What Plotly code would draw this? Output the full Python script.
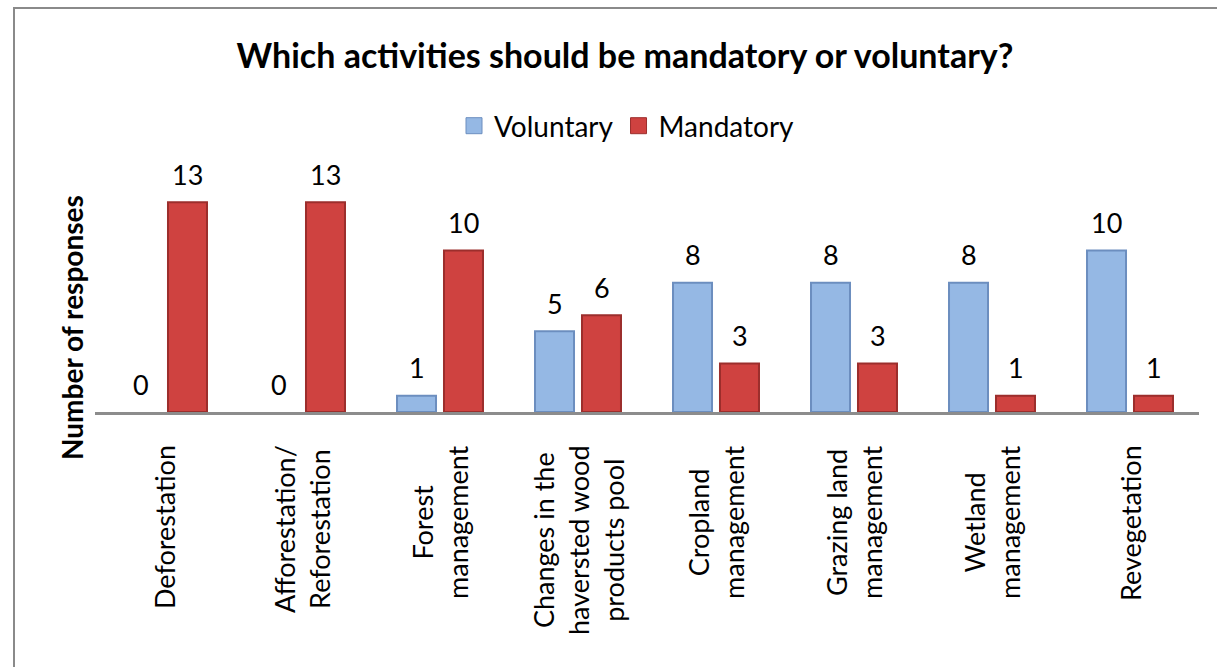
import plotly.graph_objects as go

# Survey results: number of responses per activity
categories = [
    "Deforestation",
    "Afforestation/ Reforestation",
    "Forest management",
    "Changes in the haversted wood products pool",
    "Cropland management",
    "Grazing land management",
    "Wetland management",
    "Revegetation",
]
tick_labels = [
    "Deforestation",
    "Afforestation/<br>Reforestation",
    "Forest<br>management",
    "Changes in the<br>haversted wood<br>products pool",
    "Cropland<br>management",
    "Grazing land<br>management",
    "Wetland<br>management",
    "Revegetation",
]
voluntary = [0, 0, 1, 5, 8, 8, 8, 10]
mandatory = [13, 13, 10, 6, 3, 3, 1, 1]

FONT = "Lato"
BLUE, BLUE_EDGE = "#95B8E4", "#6C8EBF"
RED, RED_EDGE = "#CF4240", "#9C2E2C"

W, H = 1217, 667
L, R, T, B = 95, 18, 186, 255
PW, PH = W - L - R, H - T - B


def px_x(px):
    return (px - L) / PW


def px_y(py):
    return (H - B - py) / PH


def edge_widths(values):
    # no outline on empty bars so they stay invisible
    return [0 if v == 0 else 2 for v in values]


fig = go.Figure()
fig.add_trace(go.Bar(x=categories, y=voluntary, name="Voluntary", showlegend=False,
                     marker=dict(color=BLUE, line=dict(color=BLUE_EDGE, width=edge_widths(voluntary)))))
fig.add_trace(go.Bar(x=categories, y=mandatory, name="Mandatory", showlegend=False,
                     marker=dict(color=RED, line=dict(color=RED_EDGE, width=edge_widths(mandatory)))))

# legend entries with larger square swatches
for name, col, edge in [("Voluntary", BLUE, BLUE_EDGE), ("Mandatory", RED, RED_EDGE)]:
    fig.add_trace(go.Scatter(x=[None], y=[None], mode="markers", name=name,
                             marker=dict(symbol="square", size=16, color=col,
                                         line=dict(color=edge, width=1))))

annotations = []
# value labels above each bar
for cat, v, m in zip(categories, voluntary, mandatory):
    for val, shift in [(v, -23.5), (m, 23.5)]:
        annotations.append(dict(x=cat, y=val, xref="x", yref="y", text=str(val),
                                showarrow=False, xshift=shift, yshift=28,
                                yanchor="middle", font=dict(size=27, color="black", family=FONT)))

# rotated category labels, lines centred within each block
for cat, lab in zip(categories, tick_labels):
    annotations.append(dict(x=cat, y=px_y(443), xref="x", yref="paper", text=lab,
                            textangle=-90, align="center", showarrow=False,
                            xanchor="center", yanchor="top",
                            font=dict(size=27, color="black", family=FONT)))

# y-axis title
annotations.append(dict(x=px_x(72), y=px_y(328), xref="paper", yref="paper",
                        text="<b>Number of responses</b>", textangle=-90, showarrow=False,
                        xanchor="center", yanchor="middle",
                        font=dict(size=28, color="black", family=FONT)))

fig.update_layout(
    width=W, height=H,
    margin=dict(l=L, r=R, t=T, b=B),
    paper_bgcolor="white", plot_bgcolor="white",
    title=dict(text="<b>Which activities should be mandatory or voluntary?</b>",
               x=625 / W, xanchor="center", y=1 - 56 / H, yanchor="middle",
               font=dict(size=34, color="black", family=FONT)),
    barmode="group", bargap=0.319, bargroupgap=0.17,
    showlegend=True,
    legend=dict(orientation="h", x=px_x(627), y=px_y(126), xanchor="center", yanchor="middle",
                font=dict(size=28, color="black", family=FONT),
                itemwidth=30, tracegroupgap=0, bgcolor="rgba(0,0,0,0)"),
    xaxis=dict(showticklabels=False, showgrid=False, zeroline=False, ticks="",
               showline=True, linecolor="#8C8C8C", linewidth=3),
    yaxis=dict(range=[0, 14], visible=False, showgrid=False, zeroline=False),
    annotations=annotations,
    shapes=[dict(type="rect", xref="paper", yref="paper",
                 x0=px_x(14), x1=px_x(1240), y0=px_y(690), y1=px_y(8),
                 line=dict(color="#8A8A8A", width=2), fillcolor="rgba(0,0,0,0)",
                 layer="below")],
    font=dict(family=FONT, color="black"),
)

fig.write_html("out.html")
